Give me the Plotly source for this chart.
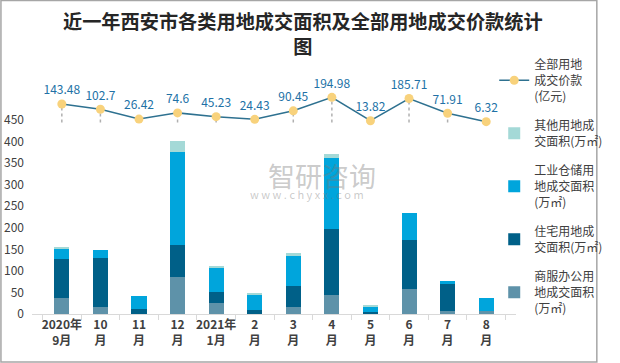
import plotly.graph_objects as go

categories = ["2020年<br>9月", "10<br>月", "11<br>月", "12<br>月", "2021年<br>1月", "2<br>月",
              "3<br>月", "4<br>月", "5<br>月", "6<br>月", "7<br>月", "8<br>月"]
commercial = [38, 16, 0, 85, 26, 0, 17, 45, 0, 59, 8, 6]
residential = [89, 113, 12, 74, 26, 9, 49, 152, 3.5, 113, 62, 0]
industrial = [25, 19, 29.5, 217, 55, 36, 69, 164, 14, 62, 7, 32]
other = [2, 0, 0, 26, 5, 2, 7, 9.5, 2.5, 0, 0, 0]
price = [143.48, 102.7, 26.42, 74.6, 45.23, 24.43, 90.45, 194.98, 13.82, 185.71, 71.91, 6.32]
price_labels = ["143.48", "102.7", "26.42", "74.6", "45.23", "24.43", "90.45", "194.98",
                "13.82", "185.71", "71.91", "6.32"]
y_ticks = [0, 50, 100, 150, 200, 250, 300, 350, 400, 450]

names = {
    "line": "全部用地<br>成交价款<br>(亿元)",
    "other": "其他用地成<br>交面积(万㎡)",
    "industrial": "工业仓储用<br>地成交面积<br>(万㎡)",
    "residential": "住宅用地成<br>交面积(万㎡)",
    "commercial": "商服办公用<br>地成交面积<br>(万㎡)",
}
title_text = "近一年西安市各类用地成交面积及全部用地成交价款统计<br>图"

FONT = "Noto Sans CJK SC, Noto Sans, sans-serif"
TXT = "#404040"

fig = go.Figure()
for key, vals, color, rank in [
    ("commercial", commercial, "#5E92A9", 5),
    ("residential", residential, "#006088", 4),
    ("industrial", industrial, "#00A5DC", 3),
    ("other", other, "#A4D9D7", 2),
]:
    fig.add_trace(go.Bar(x=categories, y=vals, name=names[key], marker_color=color,
                         marker_line_width=0, legendgroup=key, legendrank=rank, yaxis="y"))

# dotted drop lines from each price point
drop_x, drop_y = [], []
for c, v in zip(categories, price):
    drop_x += [c, c, None]
    drop_y += [0, v, None]
fig.add_trace(go.Scatter(x=drop_x, y=drop_y, mode="lines", yaxis="y2", showlegend=False,
                         line=dict(color="#B0B0B0", width=1.5, dash="dot"),
                         connectgaps=False, hoverinfo="skip"))

fig.add_trace(go.Scatter(x=categories, y=price, name=names["line"], yaxis="y2",
                         mode="lines+markers+text", text=price_labels,
                         textposition="top center",
                         textfont=dict(color="#2171A6", size=12, family=FONT),
                         line=dict(color="#2E7190", width=1.5),
                         marker=dict(color="#F8D27C", size=9, line_width=0),
                         legendgroup="line", legendrank=1, cliponaxis=False))

fig.update_layout(
    width=620, height=363,
    template="none",
    paper_bgcolor="white", plot_bgcolor="white",
    margin=dict(l=32, r=97, t=60, b=49),
    barmode="stack", bargap=0.61,
    font=dict(family=FONT, color=TXT, size=12),
    xaxis=dict(type="category", showline=True, linecolor="#D9D9D9", linewidth=1,
               ticks="outside", tickson="boundaries", ticklen=5, tickcolor="#D9D9D9",
               tickangle=0,
               tickfont=dict(size=12, color=TXT, family=FONT, weight="bold"),
               showgrid=False, zeroline=False, automargin=False),
    yaxis=dict(range=[0, 450 * 254 / 194], tickvals=y_ticks, showgrid=False, zeroline=False,
               showline=False, ticks="", tickfont=dict(size=12, color=TXT),
               ticklabelstandoff=7, automargin=False),
    yaxis2=dict(overlaying="y", range=[-1484.5, 484.5], visible=False, showgrid=False,
                zeroline=False),
    legend=dict(x=0.955, xanchor="left", y=1.038, yanchor="top",
                traceorder="grouped", tracegroupgap=11, maxheight=340,
                font=dict(size=12, color=TXT, family=FONT),
                bgcolor="rgba(0,0,0,0)", itemwidth=30),
    showlegend=True,
)

# title
fig.add_annotation(text=title_text, xref="paper", yref="paper",
                   x=(307 - 32) / 491, y=(314 - 33.5) / 254, xanchor="center", yanchor="middle",
                   showarrow=False, align="center",
                   font=dict(size=19.2, color="#262626", family=FONT, weight="bold"))

# watermark
fig.add_annotation(text="智研咨询", xref="paper", yref="paper", x=(326 - 32) / 491,
                   y=(314 - 175) / 254, showarrow=False,
                   font=dict(size=27, color="rgba(120,120,120,0.4)", family=FONT))
fig.add_annotation(text="w w w . c h y x x . c o m", xref="paper", yref="paper",
                   x=(311 - 32) / 491, y=(314 - 194) / 254, showarrow=False,
                   font=dict(size=11, color="rgba(120,120,120,0.4)", family=FONT))

# outer border of chart
fig.add_shape(type="rect", xref="paper", yref="paper",
              x0=(0.5 - 32) / 491, x1=(605 - 32) / 491,
              y0=(314 - 362) / 254, y1=(314 - 0.5) / 254,
              line=dict(color="#A6A6A6", width=1.5), fillcolor="rgba(0,0,0,0)", layer="below")

fig.write_html("out.html", config={"displayModeBar": False},
               post_script="document.body.style.margin='0';document.body.style.padding='0';")
